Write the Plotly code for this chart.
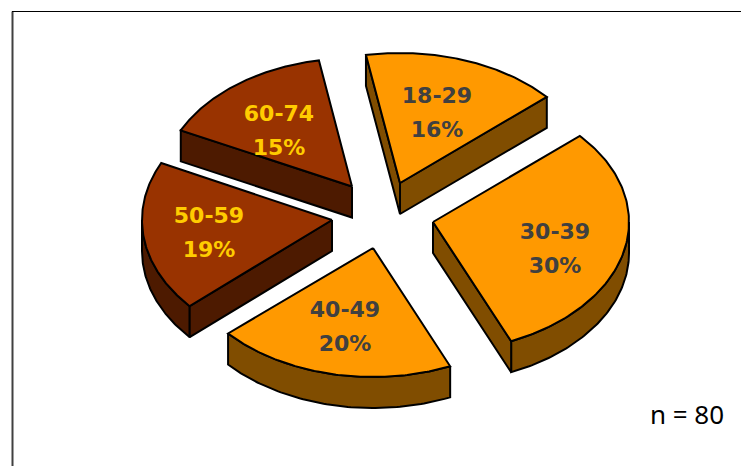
import numpy as np
import plotly.graph_objects as go

# Data
age_groups = ["18-29", "30-39", "40-49", "50-59", "60-74"]
counts = [13, 24, 16, 15, 12]
n_total = 80
sample_note = "n = 80"

# Styling / geometry of the exploded 3D pie (page-pixel axes)
START_ANGLE = -10.0
RX = [196.0, 196.0, 193.5, 190.0, 190.5]
RY = [130.0, 130.0, 129.0, 130.0, 128.0]
DEPTH = 31.0
APEX = [(400, 183), (433, 222), (373, 248), (332, 220), (352, 186.5)]
LABEL_AT = [(437, 97), (555, 233.5), (345, 311.5), (209, 217.5), (279, 115)]
LINE_GAP = 34
TOP = ["#FF9900", "#FF9900", "#FF9900", "#993300", "#993300"]
SIDE = ["#804D00", "#804D00", "#804D00", "#4D1A00", "#4D1A00"]
TXT = ["#404040", "#404040", "#404040", "#FFCC00", "#FFCC00"]
FONT = "DejaVu Sans"

fig = go.Figure()


def poly(xs, ys, fill, width=2):
    fig.add_trace(go.Scatter(x=list(xs) + [xs[0]], y=list(ys) + [ys[0]], mode="lines",
                             fill="toself", fillcolor=fill,
                             line=dict(color="black", width=width),
                             hoverinfo="skip", showlegend=False))


def rim(i, deg):
    r = np.radians(deg)
    ax, ay = APEX[i]
    return ax + RX[i] * np.sin(r), ay - RY[i] * np.cos(r)


angle = START_ANGLE
for i, c in enumerate(counts):
    a0, a1 = angle, angle + c / n_total * 360
    angle = a1
    ax, ay = APEX[i]
    # outer wall (only the front half of the ellipse is visible)
    for k in range(-1, 2):
        s, e = max(a0, 90 + 360 * k), min(a1, 270 + 360 * k)
        if e > s:
            t = np.linspace(s, e, 80)
            px, py = rim(i, t)
            poly(np.concatenate([px, px[::-1]]), np.concatenate([py, py[::-1] + DEPTH]), SIDE[i])
    # cut faces that face the viewer
    if np.sin(np.radians(a0)) < 0:
        px, py = rim(i, a0)
        poly([ax, px, px, ax], [ay, py, py + DEPTH, ay + DEPTH], SIDE[i])
    if np.sin(np.radians(a1)) > 0:
        px, py = rim(i, a1)
        poly([ax, px, px, ax], [ay, py, py + DEPTH, ay + DEPTH], SIDE[i])
    # top face
    t = np.linspace(a0, a1, 120)
    px, py = rim(i, t)
    poly(np.concatenate([[ax], px]), np.concatenate([[ay], py]), TOP[i])
    # labels
    lx, ly = LABEL_AT[i]
    pct = round(c / n_total * 100)
    fig.add_trace(go.Scatter(x=[lx, lx], y=[ly, ly + LINE_GAP], mode="text",
                             text=[age_groups[i], f"{pct}%"], textposition="middle center",
                             textfont=dict(family=FONT, size=22, color=TXT[i], weight="bold"),
                             hoverinfo="skip", showlegend=False))

fig.add_trace(go.Scatter(x=[687], y=[417], mode="text", text=[sample_note],
                         textposition="middle center",
                         textfont=dict(family="Noto Sans", size=26, color="black"),
                         hoverinfo="skip", showlegend=False))

# Outer frame
fig.add_shape(type="line", x0=12.5, x1=12.5, y0=11.5, y1=466, line=dict(color="#404040", width=2), layer="below")
fig.add_shape(type="line", x0=12, x1=741, y0=11.5, y1=11.5, line=dict(color="black", width=1), layer="below")

fig.update_layout(width=741, height=466, margin=dict(l=0, r=0, t=0, b=0),
                  paper_bgcolor="white", plot_bgcolor="white",
                  xaxis=dict(range=[0, 741], visible=False, fixedrange=True),
                  yaxis=dict(range=[466, 0], visible=False, fixedrange=True))
fig.write_html("out.html", config={"displayModeBar": False},
               post_script="document.body.style.margin='0';document.body.style.overflow='hidden';")
